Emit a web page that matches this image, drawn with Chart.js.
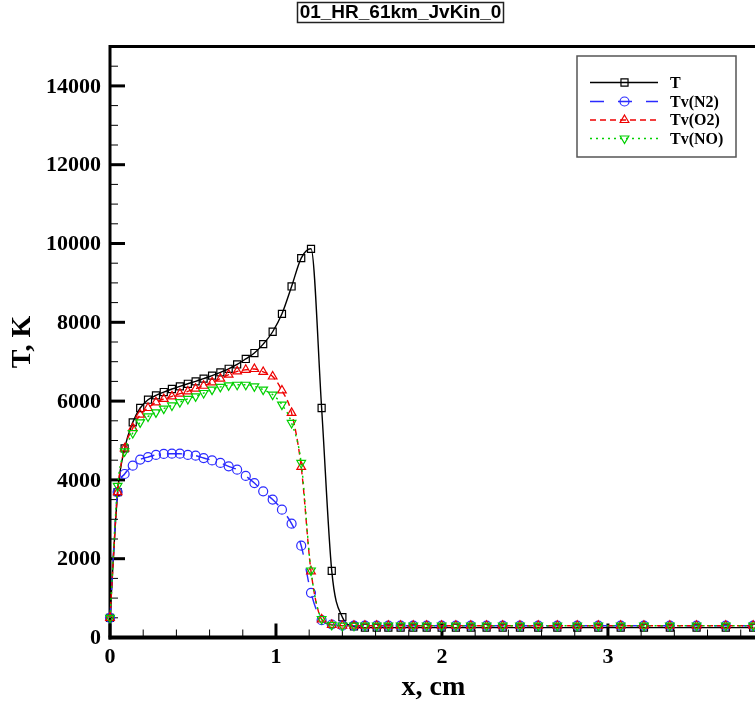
<!DOCTYPE html>
<html>
<head>
<meta charset="utf-8">
<script src="https://cdn.jsdelivr.net/npm/chart.js@4.4.1/dist/chart.umd.min.js"></script>
<style>
  html, body { margin: 0; padding: 0; background: #fff; overflow: hidden; }
  #wrap { position: relative; width: 755px; height: 703px; }
</style>
</head>
<body>
<div id="wrap"><canvas id="c" width="755" height="703"></canvas></div>
<script>
// ---- data ----
const xValues = [0, 0.046, 0.088, 0.137, 0.182, 0.229, 0.277, 0.324, 0.373, 0.421, 0.469, 0.516, 0.564, 0.615, 0.665, 0.715, 0.766, 0.818, 0.870, 0.923, 0.980, 1.036, 1.094, 1.152, 1.211, 1.275, 1.336, 1.400, 1.470, 1.536, 1.607, 1.677, 1.751, 1.827, 1.908, 1.998, 2.084, 2.174, 2.269, 2.366, 2.470, 2.580, 2.695, 2.815, 2.942, 3.077, 3.217, 3.373, 3.534, 3.710, 3.875];
const T = [500, 3690, 4800, 5460, 5825, 6035, 6145, 6230, 6307, 6375, 6440, 6500, 6570, 6645, 6730, 6820, 6930, 7070, 7220, 7445, 7760, 8215, 8910, 9630, 9865, 5825, 1690, 515, 280, 250, 250, 250, 250, 250, 250, 250, 250, 250, 250, 250, 250, 250, 250, 250, 250, 250, 250, 250, 250, 250, 250];
const TvN2 = [500, 3690, 4150, 4360, 4515, 4580, 4635, 4660, 4665, 4665, 4635, 4615, 4555, 4495, 4430, 4345, 4260, 4100, 3920, 3710, 3500, 3245, 2890, 2330, 1135, 440, 330, 300, 300, 300, 300, 300, 300, 300, 300, 300, 300, 300, 300, 300, 300, 300, 300, 300, 300, 300, 300, 300, 300, 300, 300];
const TvO2 = [500, 3690, 4800, 5315, 5655, 5825, 5970, 6055, 6120, 6190, 6245, 6315, 6390, 6475, 6570, 6670, 6755, 6795, 6815, 6740, 6625, 6270, 5700, 4330, 1680, 460, 320, 300, 300, 300, 300, 300, 300, 300, 300, 300, 300, 300, 300, 300, 300, 300, 300, 300, 300, 300, 300, 300, 300, 300, 300];
const TvNO = [500, 3850, 4725, 5190, 5460, 5610, 5715, 5810, 5890, 5975, 6055, 6120, 6205, 6290, 6360, 6400, 6415, 6415, 6375, 6290, 6165, 5910, 5445, 4430, 1700, 470, 320, 300, 300, 300, 300, 300, 300, 300, 300, 300, 300, 300, 300, 300, 300, 300, 300, 300, 300, 300, 300, 300, 300, 300, 300];
const seriesNames = ['T', 'Tv(N2)', 'Tv(O2)', 'Tv(NO)'];
const xTickValues = [0, 1, 2, 3];
const xTickLabels = ['0', '1', '2', '3'];
const yTickValues = [0, 2000, 4000, 6000, 8000, 10000, 12000, 14000];
const yTickLabels = ['0', '2000', '4000', '6000', '8000', '10000', '12000', '14000'];
const chartTitle = '01_HR_61km_JvKin_0';
const xTitle = 'x, cm';
const yTitle = 'T, K';

const X_MAX = 3.886, Y_MAX = 15000;
const SERIF = '"Liberation Serif", "Times New Roman", serif';
const SANS = '"Liberation Sans", Arial, sans-serif';

function pts(arr) { return xValues.map((x, i) => ({ x: x, y: arr[i] })); }

const styles = [
  { color: '#000000', dash: [], style: 'rect', radius: 5, rot: 0 },
  { color: '#2a2aff', dash: [14, 14], style: 'circle', radius: 4.5, rot: 0 },
  { color: '#ee0000', dash: [6, 4], style: 'triangle', radius: 5, rot: 0 },
  { color: '#00d000', dash: [2, 4], style: 'triangle', radius: 5, rot: 180 }
];
const seriesData = [T, TvN2, TvO2, TvNO];

const datasets = seriesData.map((arr, i) => ({
  label: seriesNames[i],
  data: pts(arr),
  borderColor: styles[i].color,
  borderWidth: 1.4,
  borderDash: styles[i].dash,
  pointStyle: styles[i].style,
  pointRadius: styles[i].radius,
  pointRotation: styles[i].rot,
  pointBorderColor: styles[i].color,
  pointBackgroundColor: 'rgba(0,0,0,0)',
  pointBorderWidth: 1.2,
  cubicInterpolationMode: 'monotone',
  clip: false,
  order: 3 - i
}));

const axesPlugin = {
  id: 'axesPlugin',
  beforeDatasetsDraw(chart) {
    const ctx = chart.ctx, a = chart.chartArea;
    const xs = chart.scales.x, ys = chart.scales.y;
    ctx.save();
    ctx.strokeStyle = '#000';
    ctx.setLineDash([]);
    // minor / major ticks (inward)
    for (let k = 0; k * 0.2 <= X_MAX + 1e-9; k++) {
      const v = k * 0.2;
      const px = xs.getPixelForValue(v);
      const major = (k % 5 === 0);
      ctx.lineWidth = major ? 3 : 1;
      ctx.beginPath();
      ctx.moveTo(px, a.bottom);
      ctx.lineTo(px, a.bottom - (major ? 14 : 8));
      ctx.stroke();
    }
    for (let k = 0; k * 500 <= Y_MAX; k++) {
      const v = k * 500;
      const py = ys.getPixelForValue(v);
      const major = (k % 4 === 0);
      ctx.lineWidth = major ? 3 : 1;
      ctx.beginPath();
      ctx.moveTo(a.left, py);
      ctx.lineTo(a.left + (major ? 15 : 8), py);
      ctx.stroke();
    }
    // axis lines / frame
    ctx.lineWidth = 3;
    ctx.beginPath();
    ctx.moveTo(a.left, a.top);
    ctx.lineTo(a.right + 5, a.top);
    ctx.stroke();
    ctx.beginPath();
    ctx.moveTo(a.left, a.top - 1.5);
    ctx.lineTo(a.left, a.bottom + 2);
    ctx.stroke();
    ctx.lineWidth = 4;
    ctx.beginPath();
    ctx.moveTo(a.left - 1.5, a.bottom);
    ctx.lineTo(a.right + 5, a.bottom);
    ctx.stroke();
    // tick labels
    ctx.fillStyle = '#000';
    ctx.font = 'bold 22px ' + SERIF;
    ctx.textAlign = 'right';
    ctx.textBaseline = 'middle';
    yTickValues.forEach((v, i) => {
      ctx.fillText(yTickLabels[i], a.left - 9, ys.getPixelForValue(v) + 1);
    });
    ctx.textAlign = 'center';
    ctx.textBaseline = 'middle';
    xTickValues.forEach((v, i) => {
      ctx.fillText(xTickLabels[i], xs.getPixelForValue(v), a.bottom + 20);
    });
    ctx.restore();
  },
  afterDraw(chart) {
    const ctx = chart.ctx, a = chart.chartArea;
    ctx.save();
    // title box
    ctx.font = 'bold 19px ' + SANS;
    ctx.textAlign = 'center';
    ctx.textBaseline = 'middle';
    ctx.fillStyle = '#000';
    ctx.fillText(chartTitle, 400.5, 12.5);
    ctx.strokeStyle = '#222';
    ctx.lineWidth = 1.5;
    ctx.strokeRect(297.5, 2.5, 206, 20);
    // axis titles
    ctx.font = 'bold 28px ' + SERIF;
    ctx.fillText(xTitle, (a.left + a.right) / 2 + 1, 688);
    ctx.save();
    ctx.translate(23, 342);
    ctx.rotate(-Math.PI / 2);
    ctx.fillText(yTitle, 0, 0);
    ctx.restore();
    // legend
    ctx.fillStyle = '#fff';
    ctx.fillRect(577, 56, 159, 101);
    ctx.strokeStyle = '#555';
    ctx.lineWidth = 1.5;
    ctx.strokeRect(577, 56, 159, 101);
    const rows = [82.5, 101.5, 120, 138.5];
    datasets.forEach((d, i) => {
      const y = rows[i];
      ctx.strokeStyle = d.borderColor;
      ctx.lineWidth = 1.5;
      ctx.setLineDash(d.borderDash);
      ctx.beginPath();
      ctx.moveTo(590, y);
      ctx.lineTo(658, y);
      ctx.stroke();
      ctx.setLineDash([]);
      ctx.fillStyle = 'rgba(0,0,0,0)';
      ctx.lineWidth = 1.2;
      Chart.helpers.drawPoint(ctx, { pointStyle: d.pointStyle, radius: d.pointRadius, rotation: d.pointRotation, borderWidth: 1.2 }, 624.5, y);
      ctx.fillStyle = '#000';
      ctx.font = 'bold 16px ' + SERIF;
      ctx.textAlign = 'left';
      ctx.textBaseline = 'middle';
      ctx.fillText(d.label, 670, y + 1);
    });
    ctx.restore();
  }
};

new Chart(document.getElementById('c'), {
  type: 'line',
  data: { datasets: datasets },
  plugins: [axesPlugin],
  options: {
    responsive: false,
    animation: false,
    devicePixelRatio: 1,
    layout: { autoPadding: false, padding: { top: 46.5, right: 0, left: 0, bottom: 0 } },
    plugins: { legend: { display: false }, tooltip: { enabled: false }, title: { display: false } },
    scales: {
      x: {
        type: 'linear', min: 0, max: X_MAX,
        afterFit(s) { s.height = 65.5; s.paddingLeft = 0; s.paddingRight = 0; },
        grid: { display: false, drawTicks: false },
        border: { display: false },
        ticks: { display: false }
      },
      y: {
        type: 'linear', min: 0, max: Y_MAX,
        afterFit(s) { s.width = 110; s.paddingTop = 0; s.paddingBottom = 0; },
        grid: { display: false, drawTicks: false },
        border: { display: false },
        ticks: { display: false }
      }
    }
  }
});
</script>
</body>
</html>
